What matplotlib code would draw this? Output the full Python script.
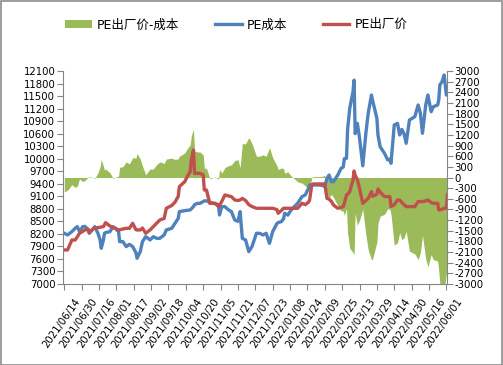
import numpy as np
import pandas as pd
import matplotlib
matplotlib.use("Agg")
import matplotlib.pyplot as plt
import matplotlib.dates as mdates
from matplotlib.patches import Rectangle
from matplotlib.transforms import ScaledTranslation

plt.rcParams["font.family"] = ["DejaVu Sans", "Noto Sans CJK SC"]
plt.rcParams["axes.unicode_minus"] = False

START = pd.Timestamp("2021-06-14")

# days since 2021/06/14
days = [0, 3, 7, 10, 12, 14, 17, 19, 22, 23, 27, 28, 31, 33, 34, 36, 37, 38,
        42, 45, 47, 50, 51, 54, 57, 60, 63, 66, 67, 70, 72, 75, 79, 82, 85, 88,
        92, 94, 99, 102, 105, 106, 111, 114, 116, 117, 119, 120, 123, 125, 128,
        129, 131, 134, 139, 142, 143, 145, 148, 151, 154, 157, 160, 162, 164,
        167, 170, 173, 177, 180, 183, 186, 189, 192, 196, 197, 200, 202, 203,
        206, 209, 212, 215, 219, 222, 225, 226, 228, 229, 234, 238, 240, 242,
        244, 246, 248, 250, 252, 255, 257, 258, 260, 261, 263, 266, 267, 268,
        270, 272, 275, 278, 280, 283, 284, 288, 289, 291, 295, 298, 300, 301,
        304, 307, 309, 311, 313, 315, 318, 323, 326, 328, 330, 333, 335, 338,
        340, 344, 345, 346, 348, 350, 352, 353]

# PE ex-factory price (left axis)
price = [7815, 7815, 8054, 8054, 8130, 8214, 8260, 8294, 8310, 8230, 8334, 8340,
         8350, 8360, 8365, 8373, 8420, 8469, 8389, 8350, 8334, 8294, 8300, 8320,
         8334, 8334, 8453, 8300, 8294, 8294, 8340, 8214, 8294, 8373, 8453, 8533,
         8570, 8813, 8880, 8960, 9100, 9331, 9450, 9610, 9690, 9970, 10209, 9650,
         9650, 9650, 9610, 9250, 9250, 8933, 8933, 8853, 8880, 8973, 9132, 9110,
         9092, 9012, 9000, 9012, 9050, 9000, 8900, 8853, 8813, 8813, 8813, 8813,
         8813, 8813, 8780, 8693, 8760, 8813, 8813, 8813, 8813, 8813, 8813, 8933,
         8900, 8960, 9012, 9371, 9395, 9395, 9395, 9395, 9052, 9030, 8980, 8893,
         8850, 8813, 8830, 8853, 8933, 9132, 9150, 9211, 9490, 9706, 9600, 9500,
         9291, 8933, 9000, 9050, 9211, 9100, 9150, 9275, 9200, 9092, 9092, 9092,
         8853, 8900, 9012, 9012, 8950, 8900, 8853, 8853, 8853, 8973, 8973, 8973,
         8990, 9012, 8950, 8933, 8933, 8773, 8773, 8790, 8813, 8813, 9132]

# PE cost (left axis)
cost = [8214, 8174, 8254, 8334, 8373, 8254, 8373, 8380, 8300, 8214, 8330, 8373,
        8214, 8054, 7855, 8050, 8214, 8230, 8254, 8373, 8330, 8254, 8014, 8014,
        7895, 7950, 7895, 7750, 7616, 7775, 8014, 8134, 8054, 8134, 8094, 8094,
        8174, 8294, 8334, 8453, 8573, 8733, 8757, 8765, 8773, 8800, 8853, 8900,
        8933, 8930, 8973, 8990, 8990, 8960, 8920, 8900, 8653, 8850, 8853, 8780,
        8733, 8533, 8500, 8733, 8094, 8054, 7775, 7900, 8214, 8214, 8174, 8214,
        7974, 8254, 8453, 8470, 8493, 8560, 8693, 8650, 8773, 8853, 8933, 9092,
        9132, 9291, 9371, 9371, 9371, 9371, 9360, 9331, 9530, 9610, 9450, 9450,
        9530, 9610, 9770, 9800, 10000, 10010, 10700, 11207, 11606, 11880, 10600,
        10847, 10500, 9830, 10647, 11087, 11525, 11400, 10967, 10568, 10288,
        10129, 9970, 9990, 9890, 10807, 10847, 10568, 10700, 10600, 10369, 10927,
        11007, 11286, 11100, 10608, 11286, 11525, 11126, 11245, 11286, 11400,
        11765, 11844, 12004, 11525, 11525]

left_ticks = list(range(7000, 12101, 300))
right_ticks = list(range(-3000, 3001, 300))

GREEN = "#9BBB59"
BLUE = "#4F81BD"
RED = "#C0504D"
AXIS = "#868686"

dates = START + pd.to_timedelta(days, unit="D")
spread = np.array(price) - np.array(cost)

fig = plt.figure(figsize=(5.03, 3.65), dpi=100)
ax = fig.add_axes([63 / 503, 1 - 284 / 365, 384 / 503, 213 / 365])
ax2 = ax.twinx()

ax2.fill_between(dates, 0, spread, color=GREEN, linewidth=0, label="PE出厂价-成本")
ax.plot(dates, cost, color=BLUE, lw=2.4, label="PE成本")
ax.plot(dates, price, color=RED, lw=2.4, label="PE出厂价")

ax.set_zorder(ax2.get_zorder() + 1)
ax.patch.set_visible(False)

ax.set_ylim(7000, 12100)
ax.set_yticks(left_ticks)
ax2.set_ylim(-3000, 3000)
ax2.set_yticks(right_ticks)

xticks = pd.date_range(START, periods=23, freq="16D")
ax.set_xlim(START - pd.Timedelta(days=1.2), xticks[-1] + pd.Timedelta(days=0.6))
ax.set_xticks(xticks)
ax.xaxis.set_major_formatter(mdates.DateFormatter("%Y/%m/%d"))

for a in (ax, ax2):
    for s in a.spines.values():
        s.set_color(AXIS)
    a.spines["top"].set_visible(False)
    a.tick_params(colors=AXIS, labelcolor="black", labelsize=7.3, length=4, width=0.8, pad=1.5)
ax.spines["right"].set_visible(False)
ax2.spines["left"].set_visible(False)
ax2.spines["bottom"].set_visible(False)
ax.tick_params(axis="x", pad=5)

offset = ScaledTranslation(7 / 72, 0, fig.dpi_scale_trans)
for lab in ax.get_xticklabels():
    lab.set_rotation(55)
    lab.set_ha("right")
    lab.set_va("top")
    lab.set_rotation_mode("anchor")
    lab.set_transform(lab.get_transform() + offset)

h1, l1 = ax2.get_legend_handles_labels()
h2, l2 = ax.get_legend_handles_labels()
fig.legend(h1 + h2, l1 + l2, loc="center", bbox_to_anchor=(0.47, 0.932),
           ncol=3, frameon=False, fontsize=9, handlelength=2.1, handletextpad=0.4,
           columnspacing=2.9)

fig.patches.append(Rectangle((0.001, 0.001), 0.997, 0.997, transform=fig.transFigure,
                             fill=False, edgecolor="#8C8C8C", lw=1.2))

fig.savefig("out.png", dpi=100)
